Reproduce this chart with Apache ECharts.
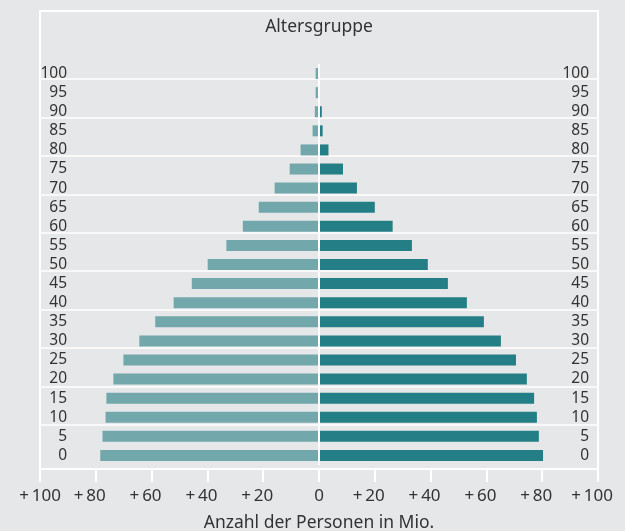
<!DOCTYPE html>
<html>
<head>
<meta charset="utf-8">
<script src="https://cdn.jsdelivr.net/npm/echarts@6/dist/echarts.min.js"></script>
<style>
  html, body { margin: 0; padding: 0; background: #e6e7e9; }
  #chart { width: 625px; height: 531px; }
</style>
</head>
<body>
<div id="chart"></div>
<script>
// Altersgruppen von unten nach oben
var ages = ["0", "5", "10", "15", "20", "25", "30", "35", "40", "45", "50",
            "55", "60", "65", "70", "75", "80", "85", "90", "95", "100"];
// linke Seite (hell), Mio.
var leftValues = [78.4, 77.6, 76.5, 76.2, 73.7, 70.1, 64.4, 58.7, 52.1, 45.6, 39.9,
                  33.2, 27.3, 21.6, 15.9, 10.5, 6.6, 2.3, 1.5, 1.2, 1.2];
// rechte Seite (dunkel), Mio.
var rightValues = [80.3, 78.8, 78.1, 77.1, 74.5, 70.6, 65.2, 59.1, 53.0, 46.2, 39.0,
                   33.3, 26.4, 20.0, 13.6, 8.6, 3.4, 1.3, 1.0, 0.2, 0.2];

var font = "Noto Sans";
var textColor = "#333333";

var chart = echarts.init(document.getElementById("chart"));
var option = {
    backgroundColor: "#e6e7e9",
    animation: false,
    title: {
        text: "Altersgruppe",
        left: 319,
        top: 18,
        padding: 0,
        textAlign: "center",
        textStyle: {
            fontFamily: font,
            fontSize: 17.5,
            fontWeight: "normal",
            color: textColor
        }
    },
    grid: [
        // Balken
        { left: 40, right: 27, top: 64, bottom: 66, outerBoundsMode: "none" },
        // Rahmen
        {
            left: 40, right: 27, top: 11, bottom: 62,
            outerBoundsMode: "none",
            show: true,
            borderColor: "#ffffff",
            borderWidth: 2,
            backgroundColor: "transparent"
        },
        // Hilfslinien
        { left: 40, right: 27, top: 79, bottom: 106, outerBoundsMode: "none" }
    ],
    xAxis: [
        { gridIndex: 0, type: "value", min: -100, max: 100, show: false },
        {
            gridIndex: 1,
            type: "value",
            min: -100,
            max: 100,
            interval: 20,
            axisLine: { show: false },
            axisTick: {
                show: true,
                length: 13,
                lineStyle: { color: "#ffffff", width: 2 }
            },
            splitLine: { show: false },
            axisLabel: {
                margin: 19,
                verticalAlign: "top",
                fontFamily: font,
                fontSize: 17,
                color: textColor,
                formatter: function(v) {
                    if (v === 0) {
                        return "0";
                    }
                    if (v === -100) {
                        return "{e|+\u2009100}";
                    }
                    return "{p|+\u2009" + Math.abs(v) + "}";
                },
                rich: {
                    p: { padding: [0, 12, 0, 0], fontFamily: font, fontSize: 17, color: textColor },
                    e: { fontFamily: font, fontSize: 17, color: textColor }
                }
            },
            name: "Anzahl der Personen in Mio.",
            nameLocation: "middle",
            nameGap: 45,
            nameMoveOverlap: false,
            nameTextStyle: {
                fontFamily: font,
                fontSize: 17.5,
                verticalAlign: "top",
                color: textColor
            }
        },
        { gridIndex: 2, type: "value", min: -100, max: 100, show: false }
    ],
    yAxis: [
        {
            gridIndex: 0,
            type: "category",
            data: ages,
            position: "left",
            axisLine: { show: false, onZero: false },
            axisTick: { show: false },
            axisLabel: {
                interval: 0,
                margin: -27,
                fontFamily: font,
                fontSize: 15.5,
                color: textColor
            }
        },
        {
            gridIndex: 0,
            type: "category",
            data: ages,
            position: "right",
            axisLine: { show: false, onZero: false },
            axisTick: { show: false },
            axisLabel: {
                interval: 0,
                margin: -9,
                align: "right",
                fontFamily: font,
                fontSize: 15.5,
                color: textColor
            }
        },
        {
            gridIndex: 2,
            type: "value",
            min: 0,
            max: 9,
            interval: 1,
            axisLine: { show: false },
            axisTick: { show: false },
            axisLabel: { show: false },
            splitLine: {
                show: true,
                lineStyle: { color: "#ffffff", width: 1.5 }
            }
        },
        { gridIndex: 1, type: "value", min: 0, max: 1, show: false }
    ],
    series: [
        {
            name: "links",
            type: "bar",
            xAxisIndex: 0,
            yAxisIndex: 0,
            barWidth: 11,
            barGap: "-100%",
            silent: true,
            itemStyle: { color: "#72a8ac" },
            data: leftValues.map(function(v) { return -v; })
        },
        {
            name: "rechts",
            type: "bar",
            xAxisIndex: 0,
            yAxisIndex: 0,
            barWidth: 11,
            barGap: "-100%",
            silent: true,
            itemStyle: { color: "#237f85" },
            data: rightValues,
            markLine: {
                silent: true,
                symbol: "none",
                label: { show: false },
                lineStyle: { color: "#ffffff", width: 2, type: "solid" },
                data: [{ xAxis: 0 }]
            }
        }
    ]
};
chart.setOption(option);
</script>
</body>
</html>
